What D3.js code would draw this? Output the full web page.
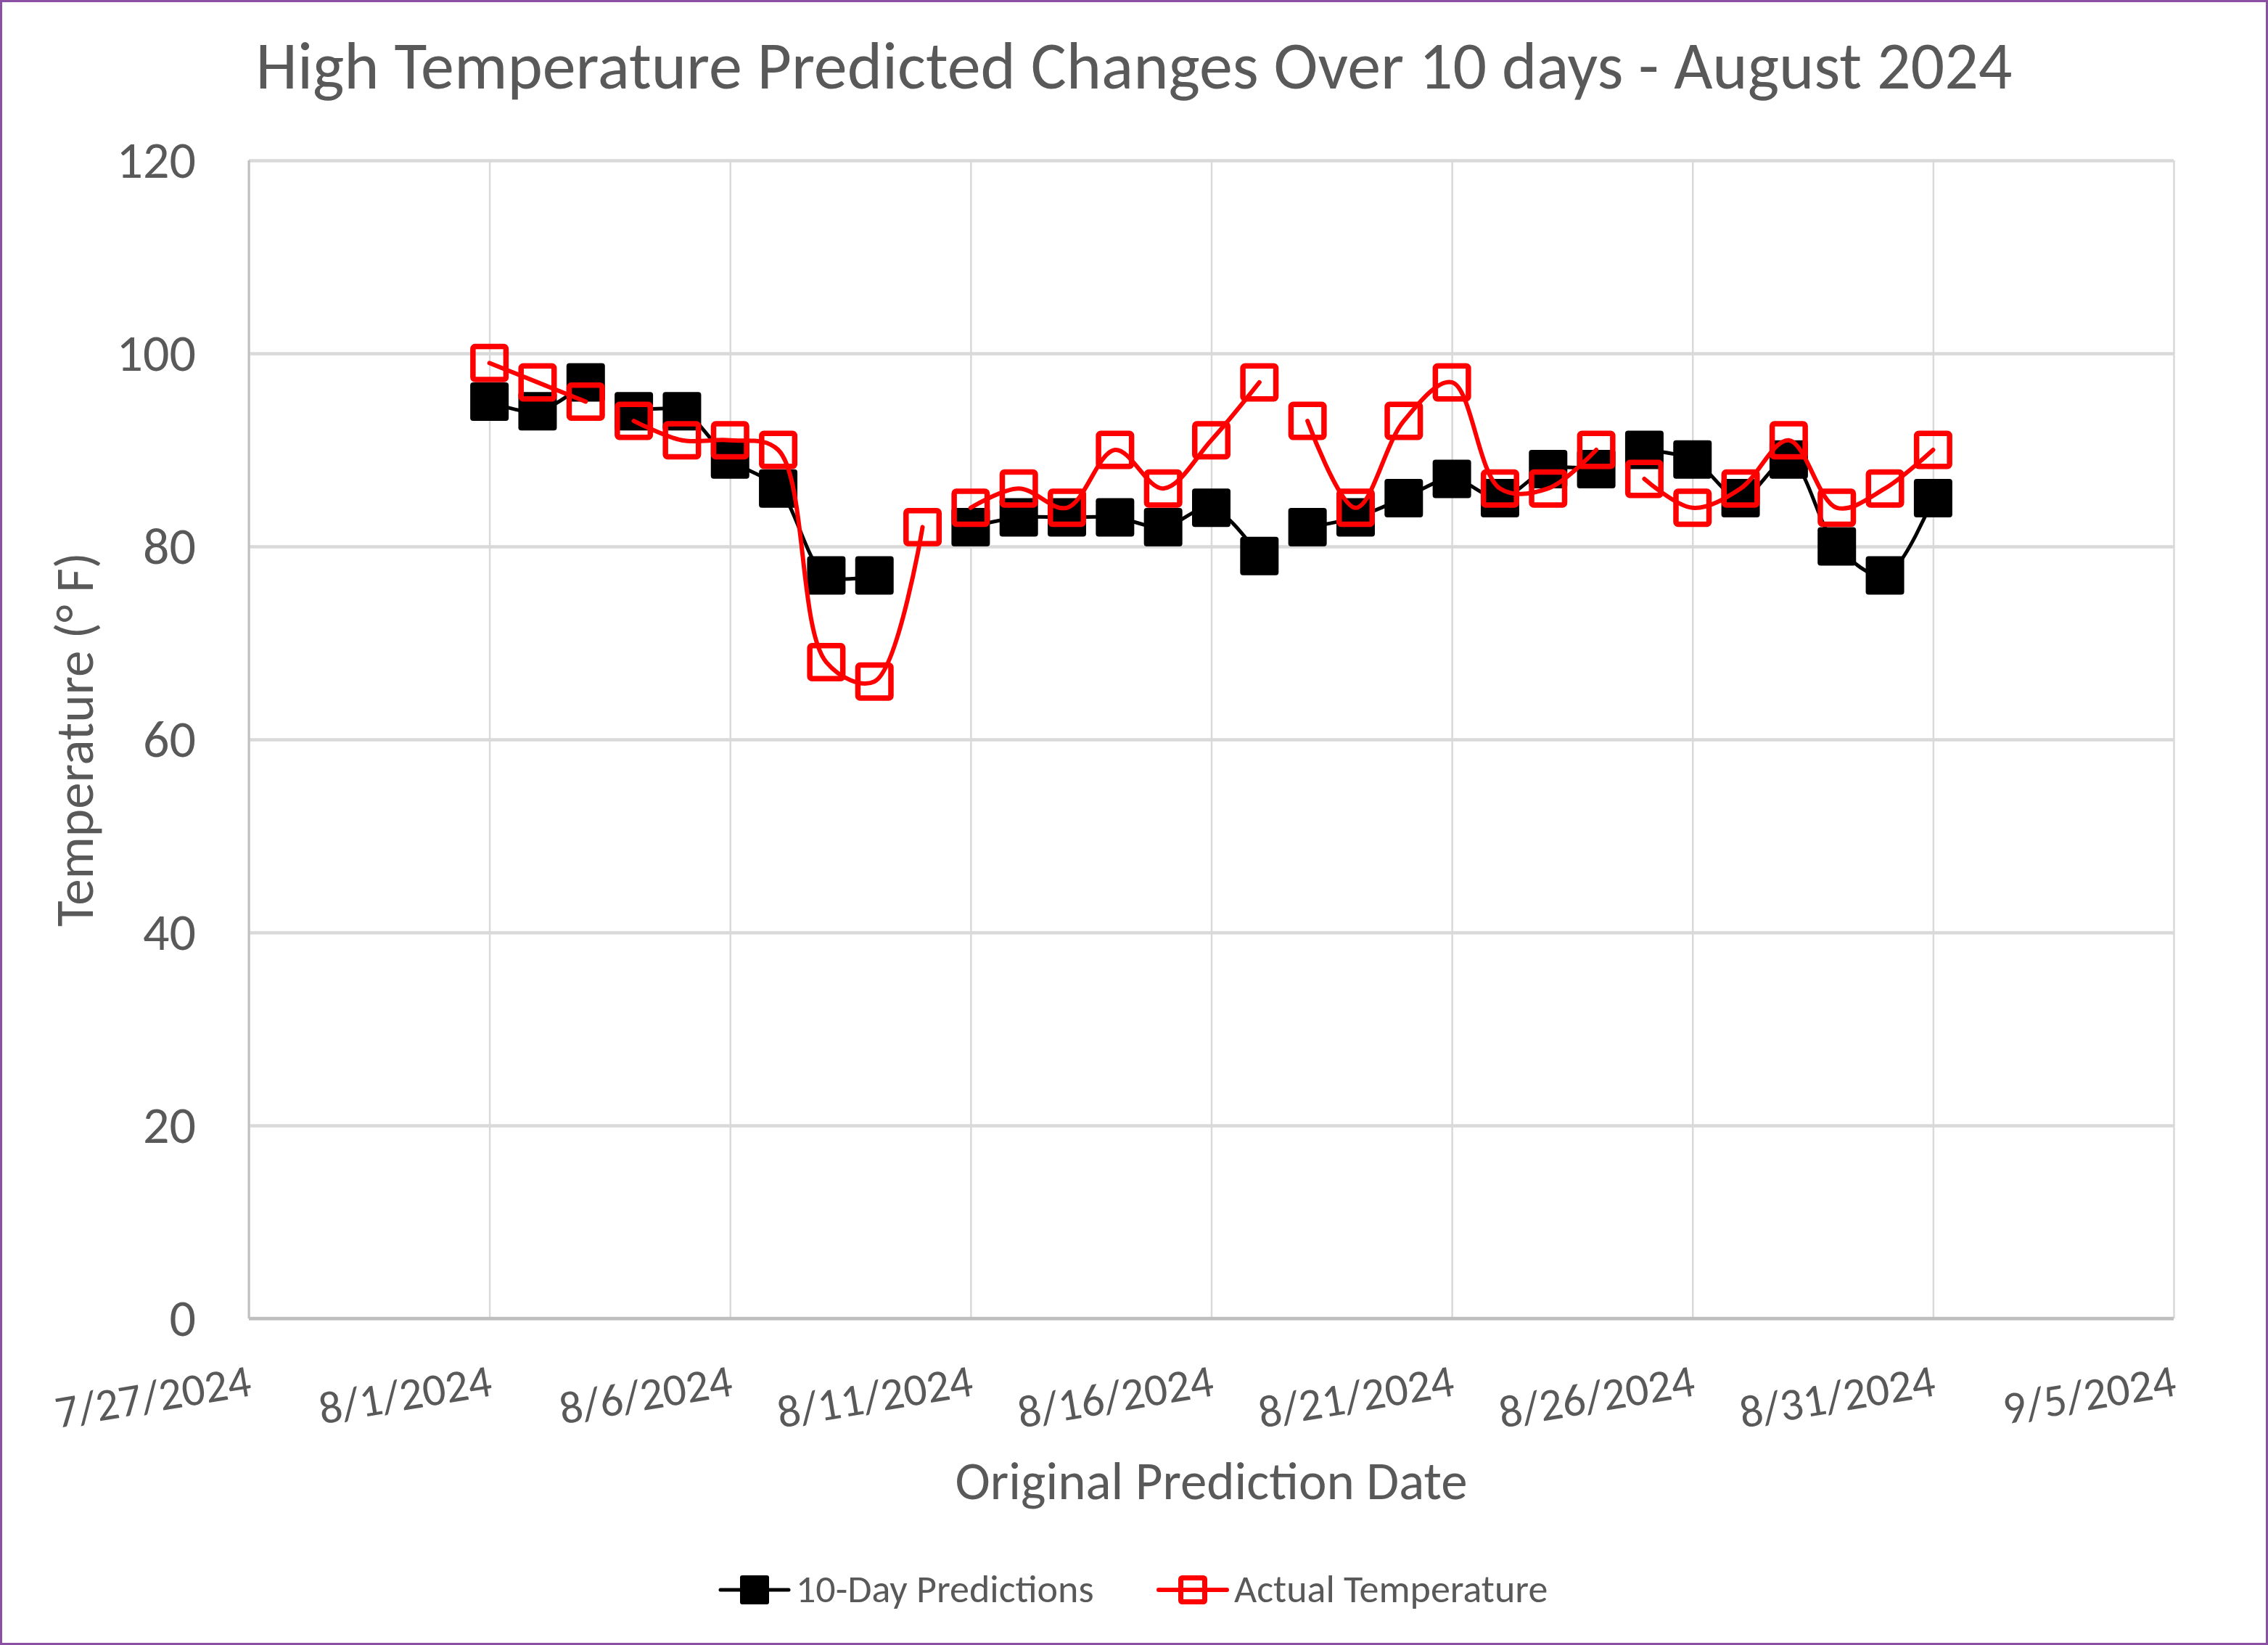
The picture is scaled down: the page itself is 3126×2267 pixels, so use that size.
<!DOCTYPE html>
<html lang="en">
<head>
<meta charset="UTF-8">
<title>High Temperature Predicted Changes</title>
<style>
  body { margin: 0; background: #fff; }
  text { font-family: Carlito, Calibri, "Open Sans", sans-serif; fill: #595959; }
</style>
</head>
<body>
<script src="https://d3js.org/d3.v7.min.js"></script>
<div id="chart"></div>
<script>
// data - null rows are the blank rows between weeks (line breaks there)
var dates = ["2024-08-01","2024-08-02","2024-08-03", null,
             "2024-08-04","2024-08-05","2024-08-06","2024-08-07","2024-08-08","2024-08-09","2024-08-10", null,
             "2024-08-11","2024-08-12","2024-08-13","2024-08-14","2024-08-15","2024-08-16","2024-08-17", null,
             "2024-08-18","2024-08-19","2024-08-20","2024-08-21","2024-08-22","2024-08-23","2024-08-24", null,
             "2024-08-25","2024-08-26","2024-08-27","2024-08-28","2024-08-29","2024-08-30","2024-08-31"]
var predictions = [95,94,97, null,
                   94,94,89,86,77,77,null, null,
                   82,83,83,83,82,84,79, null,
                   82,83,85,87,85,88,88, null,
                   90,89,85,89,80,77,85]
var actual = [99,97,95, null,
              93,91,91,90,68,66,82, null,
              84,86,84,90,86,91,97, null,
              93,84,93,97,86,86,90, null,
              87,84,86,91,84,86,90]

var xTicks = ["2024-07-27","2024-08-01","2024-08-06","2024-08-11","2024-08-16","2024-08-21","2024-08-26","2024-08-31","2024-09-05"]
var yTicks = [0,20,40,60,80,100,120]

var W = 3126, H = 2267
var plotL = 343, plotR = 2996, plotT = 221, plotB = 1817

var svg = d3.select("#chart").append("svg")
  .attr("width", W).attr("height", H)

svg.append("rect")
  .attr("x",1.5).attr("y",1.5).attr("width",W-3).attr("height",H-3)
  .attr("fill","#fff").attr("stroke","#8B4FA3").attr("stroke-width",3)

var parse = d3.utcParse("%Y-%m-%d")
var x = d3.scaleUtc().domain([parse(xTicks[0]), parse(xTicks[xTicks.length-1])]).range([plotL, plotR])
var y = d3.scaleLinear().domain([0,120]).range([plotB, plotT])

// gridlines
svg.append("g")
  .attr("transform","translate(0," + plotB + ")")
  .call(d3.axisBottom(x).tickValues(xTicks.map(parse)).tickSize(-(plotB-plotT)).tickFormat(""))
  .call(g => g.select(".domain").remove())
  .selectAll("line").attr("stroke","#d9d9d9").attr("stroke-width",2.5)

svg.append("g")
  .attr("transform","translate(" + plotL + ",0)")
  .call(d3.axisLeft(y).tickValues(yTicks).tickSize(-(plotR-plotL)).tickFormat(""))
  .call(g => g.select(".domain").remove())
  .selectAll("line").attr("stroke","#d9d9d9").attr("stroke-width",4.5)

// axis lines
svg.append("line").attr("x1",plotL).attr("x2",plotL).attr("y1",plotT).attr("y2",plotB)
  .attr("stroke","#bfbfbf").attr("stroke-width",3)
svg.append("line").attr("x1",plotL).attr("x2",plotR).attr("y1",plotB).attr("y2",plotB)
  .attr("stroke","#bfbfbf").attr("stroke-width",4.5)

// y labels
var yAxis = svg.append("g")
  .attr("transform","translate(" + plotL + ",0)")
  .call(d3.axisLeft(y).tickValues(yTicks).tickSize(0).tickPadding(73))
yAxis.select(".domain").remove()
yAxis.selectAll("text").attr("font-size",72).attr("font-family",null).style("fill","#595959")

// x labels, slightly rotated
var xAxis = svg.append("g")
  .attr("transform","translate(0," + plotB + ")")
  .call(d3.axisBottom(x).tickValues(xTicks.map(parse)).tickSize(0).tickFormat(d3.utcFormat("%-m/%-d/%Y")))
xAxis.select(".domain").remove()
xAxis.selectAll("text")
  .attr("font-size",63).attr("font-family",null).style("fill","#595959")
  .attr("y",0).attr("dy",0)
  .attr("text-anchor","end")
  .attr("transform","translate(5,106) rotate(-9.5)")

// titles
svg.append("text").attr("x",W/2).attr("y",122).attr("text-anchor","middle")
  .attr("font-size",92).text("High Temperature Predicted Changes Over 10 days - August 2024")
svg.append("text").attr("x",(plotL+plotR)/2).attr("y",2066).attr("text-anchor","middle")
  .attr("font-size",73).text("Original Prediction Date")
svg.append("text").attr("transform","translate(128," + (plotT+plotB)/2 + ") rotate(-90)")
  .attr("text-anchor","middle").attr("font-size",73).text("Temperature (° F)")

// series
var rows = dates.map(function(d,i){
  return { date: d ? parse(d) : null, pred: predictions[i], act: actual[i] }
})

function drawSeries(key, color, width){
  var line = d3.line()
    .defined(function(d){ return d.date && d[key] != null })
    .x(function(d){ return x(d.date) })
    .y(function(d){ return y(d[key]) })
    .curve(d3.curveCatmullRom.alpha(0.5))
  svg.append("path").datum(rows)
    .attr("fill","none").attr("stroke",color).attr("stroke-width",width)
    .attr("stroke-linejoin","round").attr("stroke-linecap","round")
    .attr("d", line)
  return rows.filter(function(d){ return d.date && d[key] != null })
}

var predPts = drawSeries("pred","#000",5)
svg.append("g").selectAll("rect").data(predPts).join("rect")
  .attr("x", function(d){ return x(d.date) - 26.5 })
  .attr("y", function(d){ return y(d.pred) - 26.5 })
  .attr("width",53).attr("height",53).attr("rx",4)
  .attr("fill","#000")

var actPts = drawSeries("act","#ff0000",6)
svg.append("g").selectAll("rect").data(actPts).join("rect")
  .attr("x", function(d){ return x(d.date) - 22.75 })
  .attr("y", function(d){ return y(d.act) - 22.75 })
  .attr("width",45.5).attr("height",45.5).attr("rx",3)
  .attr("fill","none").attr("stroke","#ff0000").attr("stroke-width",7.5)

// legend
var legendItems = [
  { name: "10-Day Predictions", color: "#000", filled: true, x: 993 },
  { name: "Actual Temperature", color: "#ff0000", filled: false, x: 1597 }
]
var ly = 2191
legendItems.forEach(function(it){
  var g = svg.append("g").attr("transform","translate(" + it.x + "," + ly + ")")
  g.append("line").attr("x1",0).attr("x2",94).attr("y1",0).attr("y2",0)
    .attr("stroke",it.color).attr("stroke-width",it.filled ? 5 : 6).attr("stroke-linecap","round")
  if (it.filled) {
    g.append("rect").attr("x",47-20).attr("y",-20).attr("width",40).attr("height",40).attr("rx",3).attr("fill",it.color)
  } else {
    g.append("rect").attr("x",47-16.5).attr("y",-16.5).attr("width",33).attr("height",33).attr("rx",2)
      .attr("fill","none").attr("stroke",it.color).attr("stroke-width",7)
  }
  g.append("text").attr("x",104).attr("y",17).attr("font-size",54).text(it.name)
})
</script>
</body>
</html>
